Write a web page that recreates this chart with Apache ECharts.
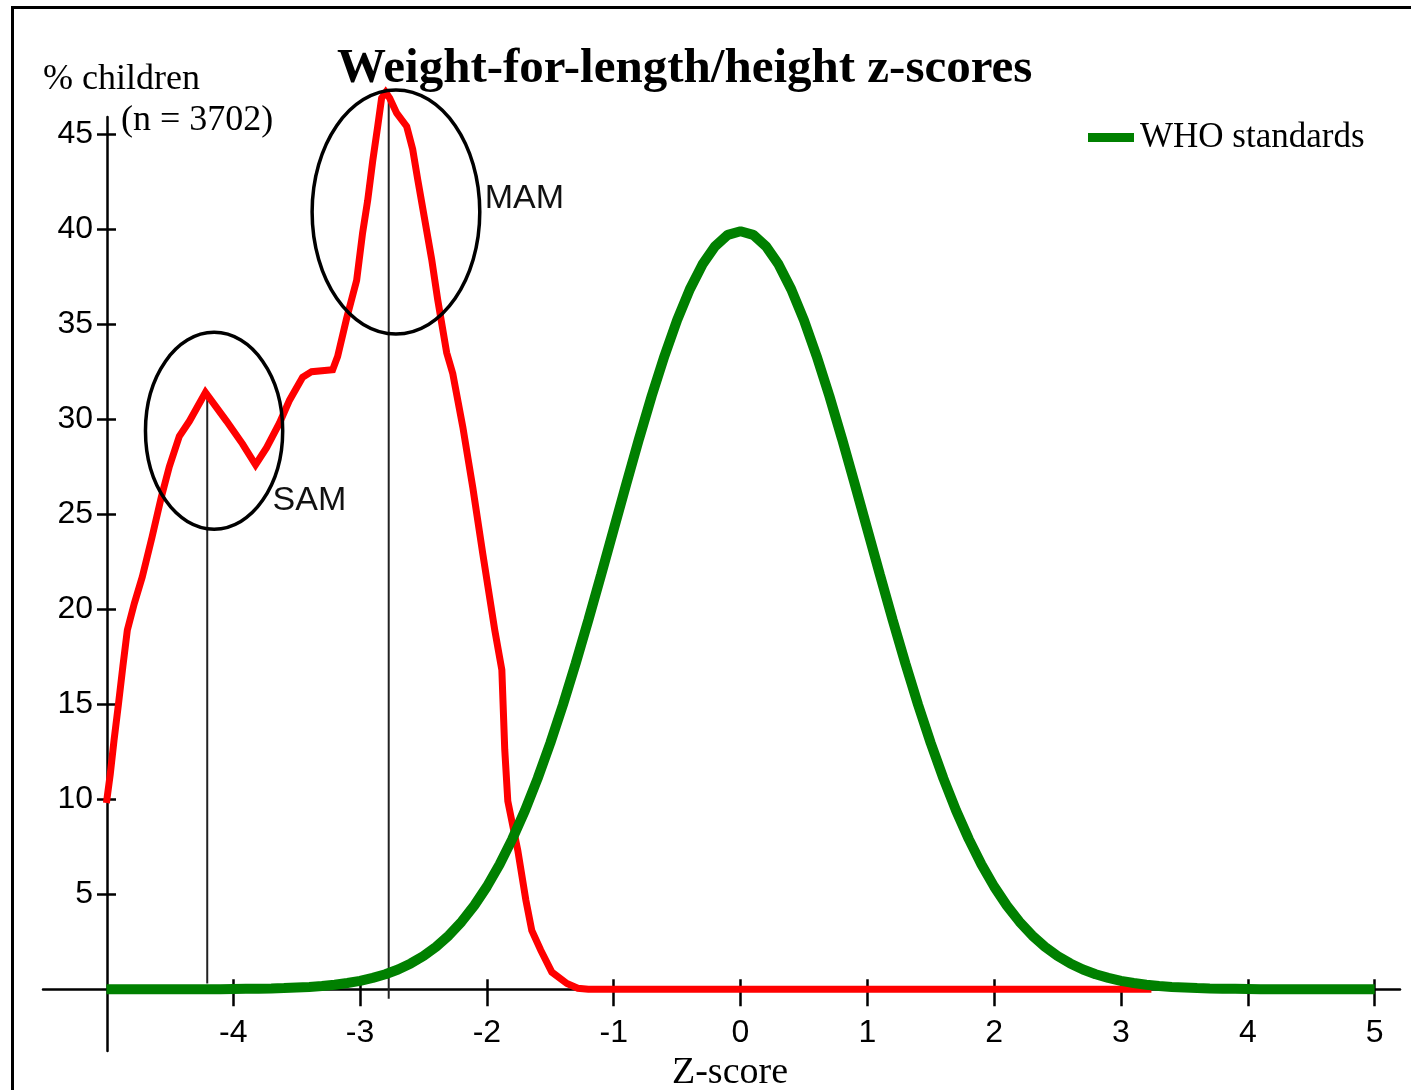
<!DOCTYPE html>
<html><head><meta charset="utf-8">
<script src="https://cdn.jsdelivr.net/npm/echarts@6/dist/echarts.min.js"></script>
<style>html,body{margin:0;padding:0;background:#fff}#c{width:1411px;height:1090px}</style>
</head><body><div id="c"></div>
<script>
// ---- data ----
const xTicks = [-4, -3, -2, -1, 0, 1, 2, 3, 4, 5];
const yTicks = [5, 10, 15, 20, 25, 30, 35, 40, 45];

const surveyZ = [-5.00, -4.97, -4.94, -4.905, -4.87, -4.835, -4.78, -4.717, -4.64, -4.567, -4.504, -4.425, -4.345, -4.219,
  -4.053, -3.927, -3.824, -3.737, -3.635, -3.556, -3.453, -3.382, -3.216, -3.177, -3.106, -3.027, -2.98, -2.94, -2.90,
  -2.861, -2.83, -2.798, -2.767, -2.711, -2.632, -2.585, -2.545, -2.49, -2.435, -2.388, -2.317, -2.269, -2.19, -2.111,
  -2.032, -1.938, -1.882, -1.859, -1.835, -1.756, -1.693, -1.646, -1.575, -1.488, -1.369, -1.283, -1.2, 3.24];
const surveyPct = [9.8, 11.3, 13.1, 15.0, 17.0, 18.9, 20.3, 21.7, 23.8, 25.9, 27.5, 29.1, 29.9, 31.4,
  29.9, 28.7, 27.6, 28.5, 29.8, 31.0, 32.2, 32.5, 32.6, 33.3, 35.3, 37.3, 39.8, 41.5, 43.6,
  45.4, 46.9, 47.2, 46.9, 46.1, 45.4, 44.2, 42.6, 40.5, 38.4, 36.3, 33.5, 32.4, 29.6, 26.4,
  22.9, 18.9, 16.8, 12.6, 9.9, 7.3, 4.7, 3.1, 2.05, 0.9, 0.3, 0.05, 0, 0];

const whoZ = [-5.0, -4.9, -4.8, -4.7, -4.6, -4.5, -4.4, -4.3, -4.2, -4.1, -4.0, -3.9, -3.8, -3.7, -3.6, -3.5, -3.4, -3.3, -3.2, -3.1,
  -3.0, -2.9, -2.8, -2.7, -2.6, -2.5, -2.4, -2.3, -2.2, -2.1, -2.0, -1.9, -1.8, -1.7, -1.6, -1.5, -1.4, -1.3, -1.2, -1.1,
  -1.0, -0.9, -0.8, -0.7, -0.6, -0.5, -0.4, -0.3, -0.2, -0.1, 0.0, 0.1, 0.2, 0.3, 0.4, 0.5, 0.6, 0.7, 0.8, 0.9,
  1.0, 1.1, 1.2, 1.3, 1.4, 1.5, 1.6, 1.7, 1.8, 1.9, 2.0, 2.1, 2.2, 2.3, 2.4, 2.5, 2.6, 2.7, 2.8, 2.9,
  3.0, 3.1, 3.2, 3.3, 3.4, 3.5, 3.6, 3.7, 3.8, 3.9, 4.0, 4.1, 4.2, 4.3, 4.4, 4.5, 4.6, 4.7, 4.8, 4.9, 5.0];
const whoPct = [0, 0, 0, 0, 0, 0, 0, 0, 0, 0, 0.01, 0.02, 0.03, 0.04, 0.06, 0.09, 0.12, 0.17, 0.24, 0.33,
  0.44, 0.6, 0.79, 1.04, 1.36, 1.75, 2.24, 2.83, 3.55, 4.4, 5.4, 6.56, 7.9, 9.4, 11.09, 12.95, 14.97, 17.14, 19.42, 21.79,
  24.2, 26.61, 28.97, 31.23, 33.32, 35.21, 36.83, 38.14, 39.1, 39.7, 39.89, 39.7, 39.1, 38.14, 36.83, 35.21, 33.32, 31.23, 28.97, 26.61,
  24.2, 21.79, 19.42, 17.14, 14.97, 12.95, 11.09, 9.4, 7.9, 6.56, 5.4, 4.4, 3.55, 2.83, 2.24, 1.75, 1.36, 1.04, 0.79, 0.6,
  0.44, 0.33, 0.24, 0.17, 0.12, 0.09, 0.06, 0.04, 0.03, 0.02, 0.01, 0, 0, 0, 0, 0, 0, 0, 0, 0, 0];

// annotations (data units)
const annoNames = ['SAM', 'MAM'];
const annoCenterZ = [-4.151, -2.717];
const annoCenterPct = [29.39, 40.9];
const annoHalfWidthZ = [0.541, 0.661];
const annoHalfHeightPct = [5.18, 6.42];
const annoLabelZ = [-3.69, -2.017];
const annoLabelPct = [25.7, 41.6];
const peakLineZ = [-4.205, -2.774];
const peakLineTop = [31.3, 47.1];
const peakLineBottom = [0.3, -0.5];

// ---- chart ----
const chart = echarts.init(document.getElementById('c'), null, {renderer: 'canvas'});
const sans = 'Liberation Sans, Arial, sans-serif';
const serif = 'Liberation Serif, Times New Roman, serif';
const axisCol = '#000';

const option = {
  animation: false,
  backgroundColor: '#fff',
  graphic: [{
    type: 'rect', silent: true,
    shape: {x: 12.5, y: 7.5, width: 1500, height: 1200},
    style: {fill: 'none', stroke: '#000', lineWidth: 3}
  }],
  title: [
    {text: 'Weight-for-length/height z-scores', left: 337, top: 45, padding: 0,
     textStyle: {fontFamily: serif, fontWeight: 'bold', fontSize: 49, color: '#000'}},
    {text: '% children', left: 43, top: 62, padding: 0,
     textStyle: {fontFamily: serif, fontWeight: 'normal', fontSize: 36, color: '#000'}},
    {text: '(n = 3702)', left: 121, top: 103, padding: 0,
     textStyle: {fontFamily: serif, fontWeight: 'normal', fontSize: 36, color: '#000'}}
  ],
  legend: {
    data: ['WHO standards'], left: 1088, top: 120, padding: 0,
    icon: 'rect', itemWidth: 46, itemHeight: 9, itemGap: 10,
    textStyle: {fontFamily: serif, fontSize: 35, color: '#000', padding: [0, 0, 0, 1]}
  },
  grid: {left: 43, right: 11, top: 117, bottom: 39, containLabel: false, outerBoundsMode: 'none'},
  xAxis: [
    {type: 'value', min: -5.5, max: 5.2, position: 'bottom',
     axisLine: {show: true, onZero: true, lineStyle: {color: axisCol, width: 2.5}},
     axisTick: {show: true, inside: false, length: 17, customValues: xTicks, lineStyle: {color: axisCol, width: 2.5}},
     axisLabel: {show: true, customValues: xTicks, margin: -34, fontFamily: sans, fontSize: 32, color: '#000'},
     splitLine: {show: false},
     name: 'Z-score', nameLocation: 'middle', nameGap: 2,
     nameTextStyle: {fontFamily: serif, fontSize: 38, color: '#000', padding: [0, 0, 0, 17]}},
    {type: 'value', min: -5.5, max: 5.2, position: 'bottom',
     axisLine: {show: false, onZero: true, onZeroAxisIndex: 0},
     axisTick: {show: true, inside: true, length: 10, customValues: xTicks, lineStyle: {color: axisCol, width: 2.5}},
     axisLabel: {show: false}, splitLine: {show: false}}
  ],
  yAxis: [
    {type: 'value', min: -3.25, max: 45.9, position: 'left', offset: -64,
     axisLine: {show: true, onZero: false, lineStyle: {color: axisCol, width: 2.5}},
     axisTick: {show: true, inside: false, length: 10, customValues: yTicks, lineStyle: {color: axisCol, width: 2.5}},
     axisLabel: {show: true, customValues: yTicks, margin: 14, fontFamily: sans, fontSize: 32, color: '#000'},
     splitLine: {show: false}},
    {type: 'value', min: -3.25, max: 45.9, position: 'left', offset: -64,
     axisLine: {show: false, onZero: false},
     axisTick: {show: true, inside: true, length: 9, customValues: yTicks, lineStyle: {color: axisCol, width: 2.5}},
     axisLabel: {show: false}, splitLine: {show: false}}
  ],
  series: [
    {name: 'Peak markers', type: 'custom', xAxisIndex: 0, yAxisIndex: 0, clip: false, silent: true, z: 1,
     data: peakLineZ.map((z, i) => [z, peakLineTop[i], peakLineBottom[i]]),
     renderItem: function (params, api) {
       const a = api.coord([api.value(0), api.value(1)]);
       const b = api.coord([api.value(0), api.value(2)]);
       return {type: 'line', shape: {x1: a[0], y1: a[1], x2: b[0], y2: b[1]},
               style: {stroke: '#222', lineWidth: 2}};
     }
    },
    {name: 'Survey', type: 'line', xAxisIndex: 0, yAxisIndex: 0, clip: false, z: 2,
     data: surveyZ.map((z, i) => [z, surveyPct[i]]),
     showSymbol: false, symbol: 'none',
     lineStyle: {color: '#ff0000', width: 7, join: 'miter'},
     itemStyle: {color: '#ff0000'}
    },
    {name: 'WHO standards', type: 'line', xAxisIndex: 0, yAxisIndex: 0, clip: false, z: 3,
     data: whoZ.map((z, i) => [z, whoPct[i]]),
     showSymbol: false, symbol: 'none',
     lineStyle: {color: '#008000', width: 10},
     itemStyle: {color: '#008000'}
    },
    {name: 'Annotations', type: 'custom', xAxisIndex: 0, yAxisIndex: 0, clip: false, silent: true, z: 4,
     data: annoNames.map((n, i) => [annoCenterZ[i], annoCenterPct[i], annoHalfWidthZ[i], annoHalfHeightPct[i], annoLabelZ[i], annoLabelPct[i]]),
     renderItem: function (params, api) {
       const i = params.dataIndex;
       const c = api.coord([api.value(0), api.value(1)]);
       const s = api.size([api.value(2), api.value(3)]);
       const l = api.coord([api.value(4), api.value(5)]);
       return {type: 'group', children: [
         {type: 'ellipse', shape: {cx: c[0], cy: c[1], rx: s[0], ry: s[1]},
          style: {fill: 'none', stroke: '#000', lineWidth: 3.5}},
         {type: 'text', x: l[0], y: l[1],
          style: {text: annoNames[i], fontFamily: sans, fontSize: 34, fill: '#111', align: 'left', verticalAlign: 'middle'}}
       ]};
     }
    }
  ]
};
chart.setOption(option);
</script>
</body></html>
